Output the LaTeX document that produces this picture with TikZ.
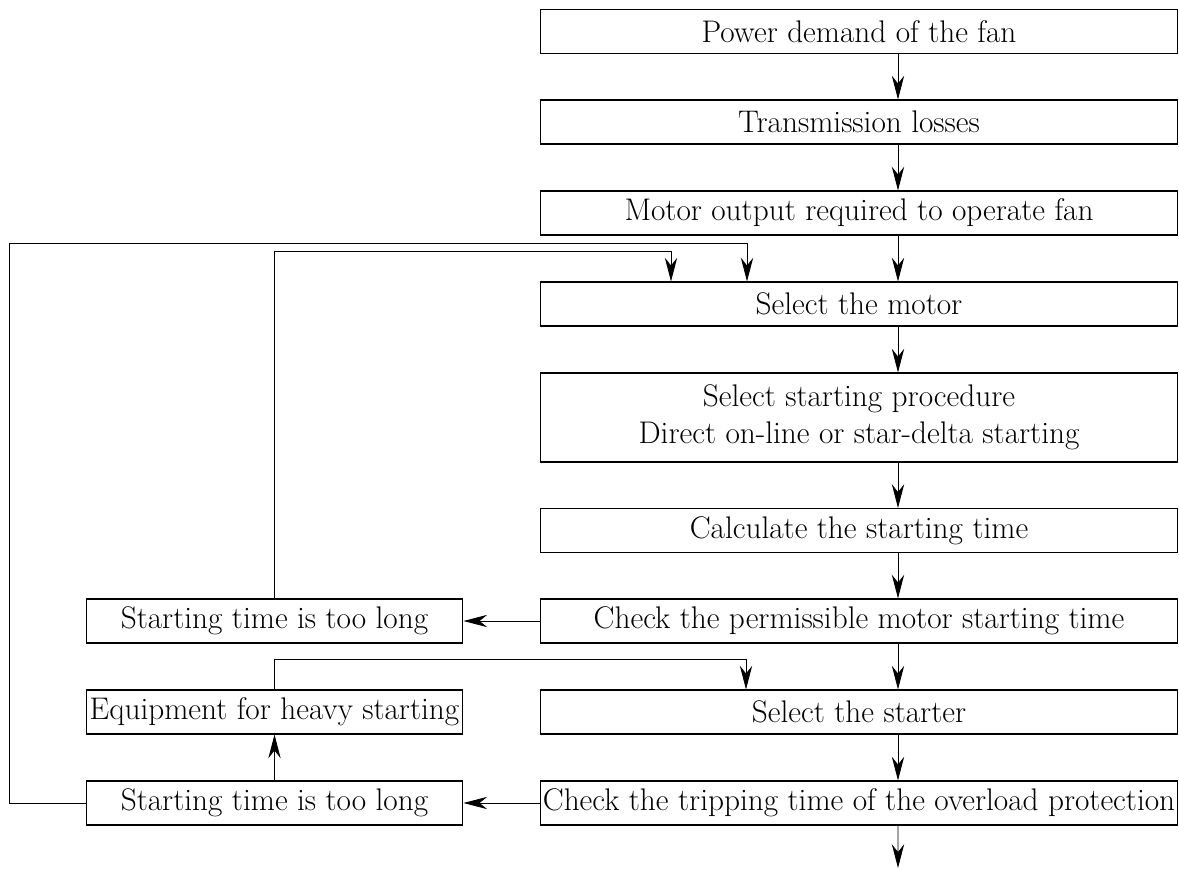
\documentclass[tikz,border=0pt]{standalone}
\usepackage{tikz}
\usetikzlibrary{calc, positioning, arrows.meta}

\begin{document}
\begin{tikzpicture}[x=0.02cm, y=-0.02cm, >={Stealth[length=13.5pt, width=7pt]},
    font=\fontsize{17.8}{21}\selectfont,
    stepbox/.style={draw, line width=0.6pt, inner sep=0pt, align=center,
      minimum width=12.76cm, minimum height=0.88cm},
    sidebox/.style={draw, line width=0.6pt, inner sep=0pt, align=center,
      minimum width=7.54cm, minimum height=0.88cm},
    flow/.style={->, line width=0.5pt}]
  \useasboundingbox (0, 0) rectangle (1179, 871);

  % main column
  \node[stepbox] (b1) at (859, 31.5) {Power demand of the fan};
  \node[stepbox] (b2) at (859, 122) {Transmission losses};
  \node[stepbox] (b3) at (859, 213) {Motor output required to operate fan};
  \node[stepbox] (b4) at (859, 304) {Select the motor};
  \node[stepbox, minimum height=1.78cm] (b5) at (859, 417.5)
    {Select starting procedure\\Direct on-line or star-delta starting};
  \node[stepbox] (b6) at (859, 530.5) {Calculate the starting time};
  \node[stepbox] (b7) at (859, 621) {Check the permissible motor starting time};
  \node[stepbox] (b8) at (859, 712) {Select the starter};
  \node[stepbox] (b9) at (859, 803) {Check the tripping time of the overload protection};
  \coordinate (out) at (898, 868);

  % side column
  \node[sidebox] (l1) at (274.5, 621) {Starting time is too long};
  \node[sidebox] (l2) at (274.5, 712) {Equipment for heavy starting};
  \node[sidebox] (l3) at (274.5, 803) {Starting time is too long};

  \foreach \a/\b in {b1/b2, b2/b3, b3/b4, b4/b5, b5/b6, b6/b7, b7/b8, b8/b9}
    \draw[flow] ([xshift=0.78cm]\a.south) -- ([xshift=0.78cm]\b.north);
  \draw[flow] ([xshift=0.78cm]b9.south) -- (out);

  \draw[flow] (b7.west) -- (l1.east);
  \draw[flow] (b9.west) -- (l3.east);
  \draw[flow] (l3.north) -- (l2.south);

  % feedback loops
  \coordinate (s1) at (746, 659);
  \coordinate (s2) at (671, 251);
  \coordinate (s3) at (747, 243);
  \coordinate (s4) at (9.5, 243);
  \draw[flow] (l2.north) |- (s1) -- (s1 |- b8.north);
  \draw[flow] (l1.north) |- (s2) -- (s2 |- b4.north);
  \draw[flow] (l3.west) -| (s4) -- (s3) -- (s3 |- b4.north);
\end{tikzpicture}
\end{document}
